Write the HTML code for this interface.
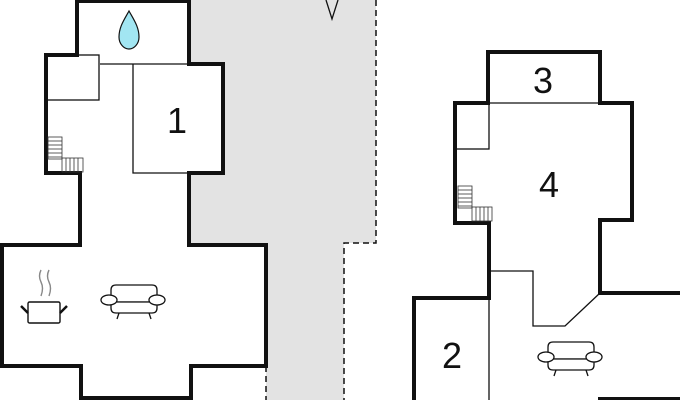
<!DOCTYPE html>
<html><head><meta charset="utf-8"><style>
html,body{margin:0;padding:0;background:#fff;width:680px;height:400px;overflow:hidden}
svg{display:block}
text{font-family:"Liberation Sans",sans-serif;fill:#111}
</style></head><body>
<svg width="680" height="400" viewBox="0 0 680 400" xmlns="http://www.w3.org/2000/svg">
<polygon points="189,0 376,0 376,243 344,243 344,400 266,400 266,245 189,245" fill="#e3e3e3"/>
<g fill="none" stroke="#111" stroke-width="1.5" stroke-dasharray="6,4">
<polyline points="376,0 376,243 344,243 344,400"/>
<line x1="266" y1="366" x2="266" y2="400"/>
</g>
<polyline points="326,0 332,19 338,0" fill="none" stroke="#111" stroke-width="1.3"/>
<polygon points="77,1 189,1 189,64 223,64 223,173 189,173 189,245 266,245 266,366 191,366 191,398 81,398 81,366 2,366 2,245 80,245 80,173 46,173 46,55 77,55" fill="#fff" stroke="#111" stroke-width="4"/>
<g fill="none" stroke="#111" stroke-width="1.3">
<line x1="100" y1="64" x2="189" y2="64"/>
<rect x="46" y="55" width="53" height="45"/>
<polyline points="133,64 133,173 189,173"/>
</g>
<g stroke="#333" stroke-width="0.8" fill="none">
<rect x="48" y="137" width="14" height="22"/>
<line x1="48" y1="141" x2="62" y2="141"/><line x1="48" y1="145" x2="62" y2="145"/><line x1="48" y1="149" x2="62" y2="149"/><line x1="48" y1="153" x2="62" y2="153"/><line x1="48" y1="157" x2="62" y2="157"/>
<rect x="62" y="158" width="21" height="14"/>
<line x1="66" y1="158" x2="66" y2="172"/><line x1="70" y1="158" x2="70" y2="172"/><line x1="74" y1="158" x2="74" y2="172"/><line x1="78" y1="158" x2="78" y2="172"/>
</g>
<path d="M129,11 C134,20 139,27 139,37 C139,44 134,49 129,49 C124,49 119,44 119,37 C119,27 124,20 129,11 Z" fill="#a2e6f2" stroke="#111" stroke-width="1.2"/>
<text x="177" y="133" font-size="36" text-anchor="middle">1</text>
<g fill="none" stroke="#111" stroke-width="1.4">
<rect x="28" y="302" width="32" height="21" rx="1.5"/>
<line x1="21" y1="306" x2="28" y2="313" stroke-width="2.5"/>
<line x1="67" y1="306" x2="60" y2="313" stroke-width="2.5"/>
<path d="M41,270 q-3,6 0,12 q3,6 0,14" stroke="#888"/>
<path d="M49,270 q-3,6 0,12 q3,6 0,14" stroke="#888"/>
</g>
<g fill="#fff" stroke="#111" stroke-width="1.3">
<path d="M111,302 L111,290 Q111,285 116,285 L152,285 Q157,285 157,290 L157,302 Z"/>
<path d="M111,302 L157,302 L157,308 Q157,313 152,313 L116,313 Q111,313 111,308 Z"/>
<ellipse cx="109" cy="300" rx="8" ry="5"/>
<ellipse cx="157" cy="300" rx="8" ry="5"/>
<line x1="119" y1="313" x2="117" y2="319"/>
<line x1="149" y1="313" x2="151" y2="319"/>
</g>
<polygon points="488,52 600,52 600,103 632,103 632,220 600,220 600,293 682,293 682,399 414,399 414,298 489,298 489,223 455,223 455,103 488,103" fill="#fff" stroke="none"/>
<polyline points="600,400 600,399 682,399" fill="none" stroke="#111" stroke-width="4"/>
<polyline points="414,402 414,298 489,298 489,223 455,223 455,103 488,103 488,52 600,52 600,103 632,103 632,220 600,220 600,293 682,293" fill="none" stroke="#111" stroke-width="4"/>
<g fill="#fff" stroke="#111" stroke-width="1.3">
<path d="M548,359 L548,347 Q548,342 553,342 L589,342 Q594,342 594,347 L594,359 Z"/>
<path d="M548,359 L594,359 L594,365 Q594,370 589,370 L553,370 Q548,370 548,365 Z"/>
<ellipse cx="546" cy="357" rx="8" ry="5"/>
<ellipse cx="594" cy="357" rx="8" ry="5"/>
<line x1="556" y1="370" x2="554" y2="376"/>
<line x1="586" y1="370" x2="588" y2="376"/>
</g>
<g fill="none" stroke="#111" stroke-width="1.3">
<line x1="488" y1="103" x2="600" y2="103"/>
<rect x="455" y="103" width="34" height="46"/>
<line x1="489" y1="298" x2="489" y2="400"/>
<polyline points="489,271 533,271 533,326 565,326 600,293"/>
</g>
<g stroke="#333" stroke-width="0.8" fill="none">
<rect x="458" y="186" width="14" height="22"/>
<line x1="458" y1="190" x2="472" y2="190"/><line x1="458" y1="194" x2="472" y2="194"/><line x1="458" y1="198" x2="472" y2="198"/><line x1="458" y1="202" x2="472" y2="202"/><line x1="458" y1="206" x2="472" y2="206"/>
<rect x="472" y="207" width="20" height="14"/>
<line x1="476" y1="207" x2="476" y2="221"/><line x1="480" y1="207" x2="480" y2="221"/><line x1="484" y1="207" x2="484" y2="221"/><line x1="488" y1="207" x2="488" y2="221"/>
</g>
<text x="543" y="93" font-size="36" text-anchor="middle">3</text>
<text x="549" y="197" font-size="36" text-anchor="middle">4</text>
<text x="452" y="368" font-size="36" text-anchor="middle">2</text>
</svg>
</body></html>
